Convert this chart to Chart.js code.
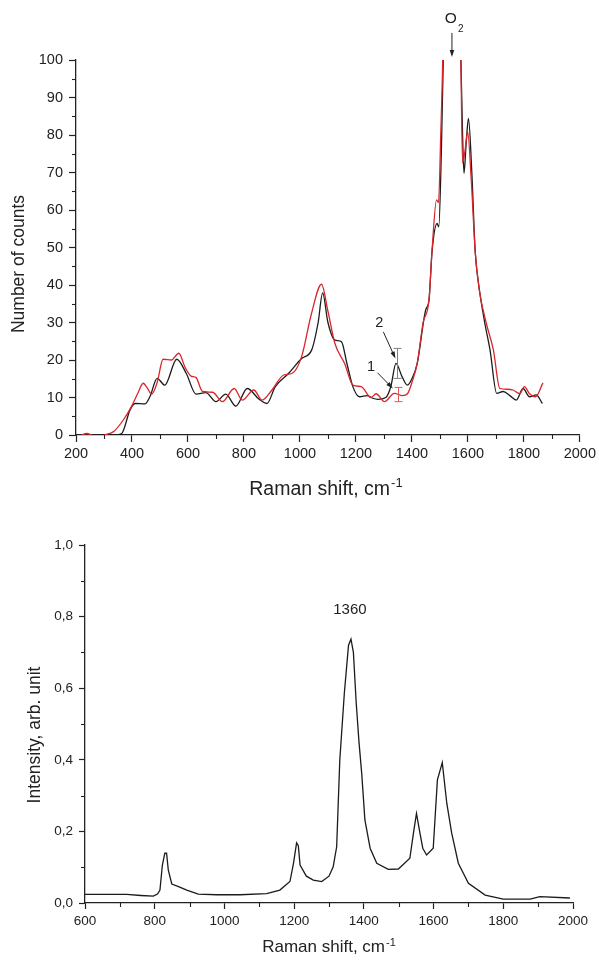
<!DOCTYPE html>
<html>
<head>
<meta charset="utf-8">
<script src="https://cdn.jsdelivr.net/npm/chart.js@4.4.0/dist/chart.umd.min.js"></script>
<style>
  html, body { margin: 0; padding: 0; background: #fff; }
  canvas { position: absolute; left: 0; }
  #upper { top: 0; }
  #lower { top: 480px; }
</style>
</head>
<body>
<canvas id="upper" width="599" height="505"></canvas>
<canvas id="lower" width="599" height="481"></canvas>
<script>
// ---- upper panel: number of counts vs Raman shift, two spectra ----
const shiftBlack = [287, 330, 363, 393, 411, 446, 464, 490, 517, 560, 594, 629, 664, 700, 735, 771, 812, 853,
  882, 912, 959, 1006, 1042, 1065, 1081, 1100, 1125, 1148, 1168, 1189, 1213, 1240, 1260, 1278, 1307, 1325,
  1343, 1365, 1384, 1400, 1419, 1449, 1461, 1472, 1490, 1496, 1505, 1512, 1518, 1570, 1575, 1581, 1586,
  1594, 1602, 1614, 1626, 1638, 1660, 1679, 1703, 1726, 1750, 1773, 1797, 1820, 1844, 1866];
const countsBlack = [0, 0, 0.4, 6.7, 8.4, 8.3, 10.2, 15.1, 13.3, 20.2, 16.4, 10.9, 11.3, 8.9, 10.9, 7.7, 12.4, 9.6,
  8.4, 12.9, 16.4, 20.4, 22.7, 30, 37.9, 30, 25.3, 24.9, 19, 12.9, 10.2, 10.5, 9.8, 9.5, 10, 13,
  19.1, 15.5, 13.3, 15, 19.1, 33.3, 36, 49, 56.4, 55.5, 75, 100, 130, 130, 100, 80, 69.8,
  78, 84.4, 70, 49, 40.4, 30, 22.7, 11.1, 11.6, 10.5, 9.3, 12.4, 10.2, 10.7, 8.4];

const shiftRed = [220, 238, 256, 270, 300, 334, 369, 399, 420, 440, 455, 470, 490, 511, 541, 567, 590, 611, 629,
  652, 688, 723, 765, 794, 835, 865, 900, 942, 971, 1006, 1040, 1077, 1100, 1125, 1160, 1189, 1219, 1254,
  1272, 1302, 1337, 1366, 1384, 1400, 1419, 1440, 1461, 1472, 1488, 1495, 1503, 1510, 1516, 1570, 1575,
  1581, 1590, 1599, 1612, 1626, 1640, 1665, 1691, 1714, 1740, 1761, 1785, 1802, 1820, 1842, 1868];
const countsRed = [0, 0.4, 0, null, 0, 0.9, 4, 7.7, 11, 13.8, 12.5, 10.9, 14, 20.2, 20, 21.8, 18, 15.7, 15.3,
  11.6, 11.4, 8.9, 12.4, 9.3, 12, 9.3, 12, 16, 16.4, 20.9, 32, 40.2, 33, 24.4, 19, 13.3, 12.9, 10,
  11, 8.9, 11.1, 10.5, 11, 14, 19.1, 30, 36, 49.3, 62.7, 62, 80, 100, 130, 130, 100,
  72.5, 76, 80.9, 68, 49, 39, 30, 22.7, 12.4, 12.2, 12, 11, 12.9, 11, 10.2, 13.9];

// error bars at the 1350 band (curve 2 black, curve 1 red)
const errShift = [1345.5, 1349];
const errLow = [15.1, 8.9];
const errHigh = [23.1, 12.7];

const upperXTicks = [200, 400, 600, 800, 1000, 1200, 1400, 1600, 1800, 2000];
const upperYTicks = [0, 10, 20, 30, 40, 50, 60, 70, 80, 90, 100];

// ---- lower panel: intensity vs Raman shift ----
const shiftLower = [600, 650, 720, 760, 796, 808, 815, 822, 829, 834, 839, 849, 870, 892, 925, 978, 1045, 1121,
  1159, 1188, 1198, 1207, 1212, 1217, 1235, 1255, 1279, 1300, 1312, 1322, 1331, 1344, 1356, 1363, 1370,
  1378, 1386, 1394, 1403, 1418, 1437, 1470, 1499, 1532, 1543, 1551, 1560, 1569, 1580, 1599, 1611, 1625,
  1638, 1652, 1671, 1700, 1748, 1800, 1877, 1905, 1991];
const intensityLower = [0.024, 0.024, 0.024, 0.021, 0.019, 0.025, 0.036, 0.106, 0.139, 0.139, 0.092, 0.053, 0.045,
  0.036, 0.025, 0.023, 0.023, 0.026, 0.036, 0.06, 0.11, 0.168, 0.16, 0.106, 0.075, 0.064, 0.06, 0.075, 0.101,
  0.157, 0.4, 0.586, 0.72, 0.737, 0.7, 0.56, 0.45, 0.36, 0.232, 0.153, 0.111, 0.094, 0.095, 0.125, 0.2,
  0.25, 0.2, 0.153, 0.134, 0.153, 0.344, 0.392, 0.278, 0.195, 0.111, 0.055, 0.022, 0.011, 0.011, 0.018, 0.014];

const lowerXTicks = [600, 800, 1000, 1200, 1400, 1600, 1800, 2000];
const lowerYTicks = [0, 0.2, 0.4, 0.6, 0.8, 1.0];

const FONT = '"Liberation Sans", Arial, sans-serif';
const INK = '#222';
const BLACK_LINE = '#1b1b1b';
const RED_LINE = '#d8262b';

function xy(xs, ys) {
  return xs.map((x, i) => ({ x: x, y: ys[i] }));
}

function drawArrow(ctx, x1, y1, x2, y2, head) {
  const a = Math.atan2(y2 - y1, x2 - x1);
  ctx.beginPath();
  ctx.moveTo(x1, y1);
  ctx.lineTo(x2 - Math.cos(a) * head * 0.8, y2 - Math.sin(a) * head * 0.8);
  ctx.stroke();
  ctx.beginPath();
  ctx.moveTo(x2, y2);
  ctx.lineTo(x2 - head * Math.cos(a) + 2.3 * Math.sin(a), y2 - head * Math.sin(a) - 2.3 * Math.cos(a));
  ctx.lineTo(x2 - head * Math.cos(a) - 2.3 * Math.sin(a), y2 - head * Math.sin(a) + 2.3 * Math.cos(a));
  ctx.closePath();
  ctx.fill();
}

// minor ticks + axis titles (Origin-like frame)
const axisDecor = {
  id: 'axisDecor',
  afterDraw(chart, args, o) {
    const ctx = chart.ctx, area = chart.chartArea;
    const xs = chart.scales.x, ys = chart.scales.y;
    ctx.save();
    ctx.strokeStyle = INK;
    ctx.lineWidth = 1.1;
    let n = Math.round((xs.max - xs.min) / o.xMinor);
    for (let i = 1; i < n; i += 2) {
      const px = Math.round(xs.getPixelForValue(xs.min + i * o.xMinor)) + 0.5;
      ctx.beginPath(); ctx.moveTo(px, area.bottom); ctx.lineTo(px, area.bottom + 4); ctx.stroke();
    }
    n = Math.round((ys.max - ys.min) / o.yMinor);
    for (let i = 1; i < n; i += 2) {
      const py = Math.round(ys.getPixelForValue(ys.min + i * o.yMinor)) + 0.5;
      ctx.beginPath(); ctx.moveTo(area.left - 4, py); ctx.lineTo(area.left, py); ctx.stroke();
    }
    // x title with superscript
    ctx.fillStyle = INK;
    ctx.textBaseline = 'alphabetic';
    ctx.textAlign = 'left';
    ctx.font = o.xTitleSize + 'px ' + FONT;
    const mainW = ctx.measureText(o.xTitle).width;
    ctx.font = o.supSize + 'px ' + FONT;
    const supW = ctx.measureText('-1').width;
    const x0 = (area.left + area.right) / 2 + o.xTitleShift - (mainW + 1 + supW) / 2;
    const base = area.bottom + o.xTitleDrop;
    ctx.font = o.xTitleSize + 'px ' + FONT;
    ctx.fillText(o.xTitle, x0, base);
    ctx.font = o.supSize + 'px ' + FONT;
    ctx.fillText('-1', x0 + mainW + 1, base - o.supRaise);
    // y title
    ctx.font = '17.5px ' + FONT;
    ctx.textAlign = 'center';
    ctx.translate(o.yTitleX, o.yTitleY);
    ctx.rotate(-Math.PI / 2);
    ctx.fillText(o.yTitle, 0, 0);
    ctx.restore();
  }
};

// labels, arrows and error bars placed in data coordinates
const marks = {
  id: 'marks',
  afterDraw(chart, args, o) {
    const ctx = chart.ctx, xs = chart.scales.x, ys = chart.scales.y;
    const px = v => xs.getPixelForValue(v), py = v => ys.getPixelForValue(v);
    ctx.save();
    (o.errors || []).forEach(e => {
      ctx.strokeStyle = e.color;
      ctx.lineWidth = 1;
      for (let i = 0; i < e.xs.length; i++) {
        const x = Math.round(px(e.xs[i])) + 0.5, lo = py(e.lo[i]), hi = py(e.hi[i]);
        ctx.beginPath();
        ctx.moveTo(x, lo); ctx.lineTo(x, hi);
        ctx.moveTo(x - 4, lo); ctx.lineTo(x + 4, lo);
        ctx.moveTo(x - 4, hi); ctx.lineTo(x + 4, hi);
        ctx.stroke();
      }
    });
    ctx.strokeStyle = INK;
    ctx.fillStyle = INK;
    ctx.lineWidth = 1;
    (o.arrows || []).forEach(a => drawArrow(ctx, px(a.x1), py(a.y1), px(a.x2), py(a.y2), 7));
    (o.texts || []).forEach(t => {
      ctx.font = t.size + 'px ' + FONT;
      ctx.textAlign = 'center';
      ctx.textBaseline = 'middle';
      ctx.fillText(t.text, px(t.x), py(t.y));
      if (t.sub) {
        ctx.font = '10px ' + FONT;
        ctx.fillText(t.sub, px(t.x) + 10, py(t.y) + 10);
      }
    });
    ctx.restore();
  }
};

function axes(xMin, xMax, xTicks, yMin, yMax, yTicks, yWidth, xHeight, fontSize, tickLen, yPad, xPad, fmt) {
  const common = {
    border: { display: true, color: INK, width: 1.3 },
    grid: { display: true, drawOnChartArea: false, drawTicks: true, tickLength: tickLen, tickColor: INK, tickWidth: 1.2 },
  };
  return {
    x: Object.assign({}, common, {
      type: 'linear', min: xMin, max: xMax,
      ticks: { color: INK, font: { size: fontSize, family: FONT }, padding: xPad, maxRotation: 0, autoSkip: false,
        callback: v => String(v) },
      afterBuildTicks: s => { s.ticks = xTicks.map(v => ({ value: v })); },
      afterFit: s => { s.height = xHeight; }
    }),
    y: Object.assign({}, common, {
      type: 'linear', min: yMin, max: yMax,
      ticks: { color: INK, font: { size: fontSize, family: FONT }, padding: yPad, autoSkip: false, callback: fmt },
      afterBuildTicks: s => { s.ticks = yTicks.map(v => ({ value: v })); },
      afterFit: s => { s.width = yWidth; }
    })
  };
}

new Chart(document.getElementById('upper'), {
  type: 'line',
  data: {
    datasets: [
      { data: xy(shiftRed, countsRed), borderColor: RED_LINE, borderWidth: 1.3, pointRadius: 0, cubicInterpolationMode: 'monotone' },
      { data: xy(shiftBlack, countsBlack), borderColor: BLACK_LINE, borderWidth: 1.3, pointRadius: 0, cubicInterpolationMode: 'monotone' }
    ]
  },
  options: {
    responsive: false,
    animation: false,
    devicePixelRatio: 1,
    layout: { padding: { left: 0, top: 60, right: 15, bottom: 0 } },
    scales: axes(200, 2000, upperXTicks, 0, 100, upperYTicks, 76, 70, 14.5, 7, 6, 3, v => String(v)),
    plugins: {
      legend: { display: false },
      tooltip: { enabled: false },
      axisDecor: { xMinor: 100, yMinor: 5, xTitle: 'Raman shift, cm', xTitleSize: 19.5, supSize: 13, supRaise: 8,
        xTitleDrop: 60, xTitleShift: -2, yTitle: 'Number of counts', yTitleX: 24, yTitleY: 264 },
      marks: {
        errors: [
          { xs: [errShift[0]], lo: [errLow[0]], hi: [errHigh[0]], color: '#808080' },
          { xs: [errShift[1]], lo: [errLow[1]], hi: [errHigh[1]], color: '#e0585c' }
        ],
        arrows: [
          { x1: 1298, y1: 27.5, x2: 1341, y2: 20.4 },
          { x1: 1277, y1: 16.6, x2: 1332, y2: 12.4 },
          { x1: 1543, y1: 107.2, x2: 1543, y2: 100.8 }
        ],
        texts: [
          { text: '2', x: 1283, y: 29.9, size: 14.5 },
          { text: '1', x: 1254, y: 18.1, size: 14.5 },
          { text: 'O', x: 1539, y: 111, size: 15.5, sub: '2' }
        ]
      }
    }
  },
  plugins: [axisDecor, marks]
});

new Chart(document.getElementById('lower'), {
  type: 'line',
  data: {
    datasets: [
      { data: xy(shiftLower, intensityLower), borderColor: BLACK_LINE, borderWidth: 1.3, pointRadius: 0, tension: 0 }
    ]
  },
  options: {
    responsive: false,
    animation: false,
    devicePixelRatio: 1,
    layout: { padding: { left: 0, top: 65, right: 26, bottom: 0 } },
    scales: axes(600, 2000, lowerXTicks, 0, 1, lowerYTicks, 85, 58, 13.5, 6, 6, 4, v => v.toFixed(1).replace('.', ',')),
    plugins: {
      legend: { display: false },
      tooltip: { enabled: false },
      axisDecor: { xMinor: 100, yMinor: 0.1, xTitle: 'Raman shift, cm', xTitleSize: 17, supSize: 11, supRaise: 6,
        xTitleDrop: 49, xTitleShift: 0, yTitle: 'Intensity, arb. unit', yTitleX: 40, yTitleY: 255 },
      marks: {
        texts: [ { text: '1360', x: 1360, y: 0.818, size: 15 } ]
      }
    }
  },
  plugins: [axisDecor, marks]
});
</script>
</body>
</html>
